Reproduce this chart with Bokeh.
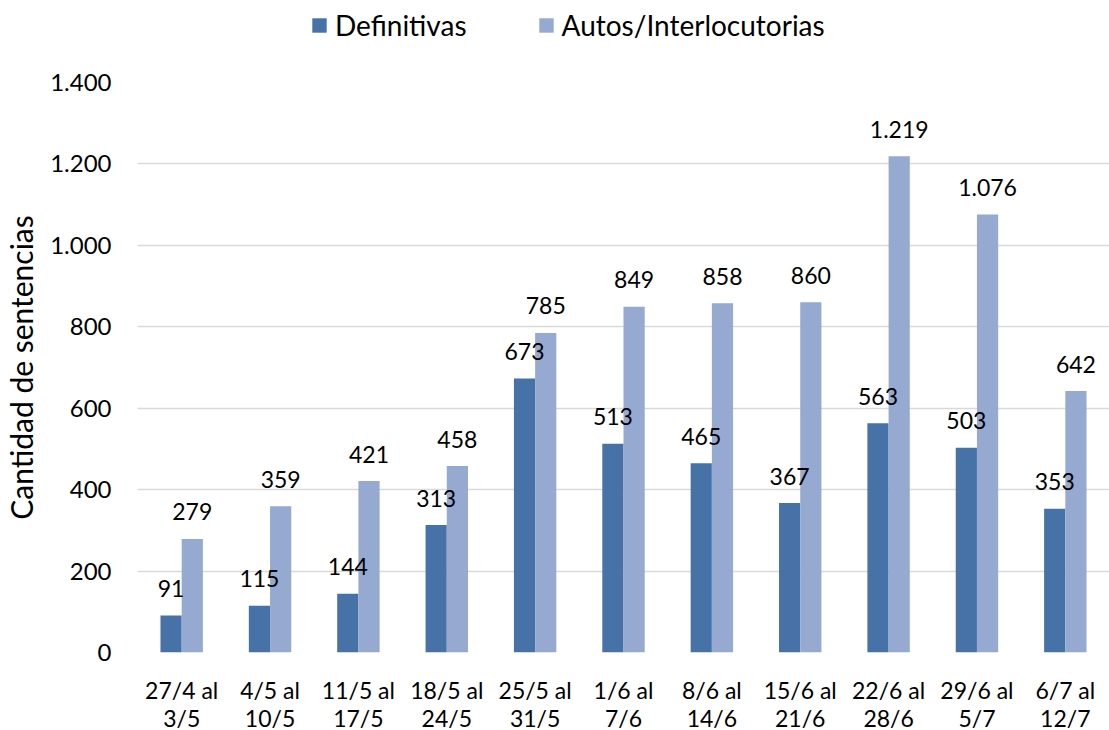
from bokeh.plotting import figure
from bokeh.layouts import column
from bokeh.models import ColumnDataSource, FactorRange, Range1d, FixedTicker, Legend, LegendItem
from bokeh.transform import dodge
from bokeh.core.properties import value
from bokeh.embed import file_html
from bokeh.resources import INLINE

categories = ["27/4 al\n3/5", "4/5 al\n10/5", "11/5 al\n17/5", "18/5 al\n24/5", "25/5 al\n31/5",
              "1/6 al\n7/6", "8/6 al\n14/6", "15/6 al\n21/6", "22/6 al\n28/6", "29/6 al\n5/7", "6/7 al\n12/7"]
definitivas = [91, 115, 144, 313, 673, 513, 465, 367, 563, 503, 353]
autos = [279, 359, 421, 458, 785, 849, 858, 860, 1219, 1076, 642]
y_ticks = [0, 200, 400, 600, 800, 1000, 1200, 1400]
series_names = ["Definitivas", "Autos/Interlocutorias"]

def fmt(v):
    return f"{v:,}".replace(",", ".")

src = ColumnDataSource(dict(
    cat=categories, d=definitivas, a=autos,
    dl=[fmt(v) for v in definitivas], al=[fmt(v) for v in autos],
))

FONT = "Lato"
C_DEF = "#4672A8"
C_AUT = "#95A9D1"

# ---- main chart ----
p = figure(x_range=FactorRange(*categories, range_padding=0), y_range=Range1d(0, 1400),
           frame_width=972, frame_height=570, output_backend="svg", toolbar_location=None,
           title=None, min_border_left=137, min_border_right=0, min_border_top=22, min_border_bottom=0)
p.outline_line_color = None
p.background_fill_color = "white"
p.border_fill_color = "white"

bw = 0.24
p.vbar(x=dodge("cat", -bw / 2, range=p.x_range), top="d", width=bw, source=src,
       fill_color=C_DEF, line_color=None)
p.vbar(x=dodge("cat", bw / 2, range=p.x_range), top="a", width=bw, source=src,
       fill_color=C_AUT, line_color=None)

p.text(x=dodge("cat", -bw / 2, range=p.x_range), y="d", text="dl", source=src,
       text_font=value(FONT), text_font_size="23px", text_align="center",
       text_baseline="middle", y_offset=-27, text_color="black")
p.text(x=dodge("cat", bw / 2, range=p.x_range), y="a", text="al", source=src,
       text_font=value(FONT), text_font_size="23px", text_align="center",
       text_baseline="middle", y_offset=-27, text_color="black")

p.xgrid.grid_line_color = None
p.ygrid.grid_line_color = "#D9D9D9"
p.ygrid.grid_line_width = 1.5

p.yaxis.ticker = FixedTicker(ticks=y_ticks)
p.yaxis.major_label_overrides = {t: fmt(t) for t in y_ticks}
for ax in (p.xaxis[0], p.yaxis[0]):
    ax.axis_line_color = None
    ax.major_tick_line_color = None
    ax.minor_tick_line_color = None
    ax.major_label_text_font = FONT
    ax.major_label_text_color = "black"
p.xaxis.major_label_text_font_size = "23px"
p.yaxis.major_label_text_font_size = "24px"
p.xaxis.major_label_text_line_height = 1.0
p.yaxis.major_label_standoff = 20
p.xaxis.major_label_standoff = 17
p.yaxis.axis_label = "Cantidad de sentencias"
p.yaxis.axis_label_text_font = FONT
p.yaxis.axis_label_text_font_size = "30px"
p.yaxis.axis_label_text_font_style = "normal"
p.yaxis.axis_label_text_color = "black"
p.yaxis.axis_label_standoff = 8

# ---- legend strip ----
lg = figure(x_range=FactorRange(*categories, range_padding=0), y_range=Range1d(0, 1400),
            width=1109, height=60,
            output_backend="svg", toolbar_location=None, title=None,
            x_axis_location=None, y_axis_location=None,
            min_border_left=0, min_border_right=0, min_border_top=0, min_border_bottom=0)
lg.outline_line_color = None
lg.grid.grid_line_color = None
lg.background_fill_color = "white"
lg.border_fill_color = "white"
d1 = lg.vbar(x="cat", top="d", width=bw, source=src, fill_color=C_DEF, line_color=None, visible=False)
d2 = lg.vbar(x="cat", top="a", width=bw, source=src, fill_color=C_AUT, line_color=None, visible=False)
legend = Legend(items=[LegendItem(label=series_names[0], renderers=[d1]),
                       LegendItem(label=series_names[1], renderers=[d2])],
                location=(173, 18), orientation="horizontal",
                label_text_font=FONT, label_text_font_size="28px", label_text_color="black",
                glyph_width=18, glyph_height=18, label_standoff=7, spacing=70,
                inactive_fill_alpha=0,
                padding=0, margin=0, border_line_color=None, background_fill_alpha=0)
lg.add_layout(legend, "center")

layout = column(lg, p, spacing=0)
open("out.html", "w").write(file_html(layout, INLINE))
